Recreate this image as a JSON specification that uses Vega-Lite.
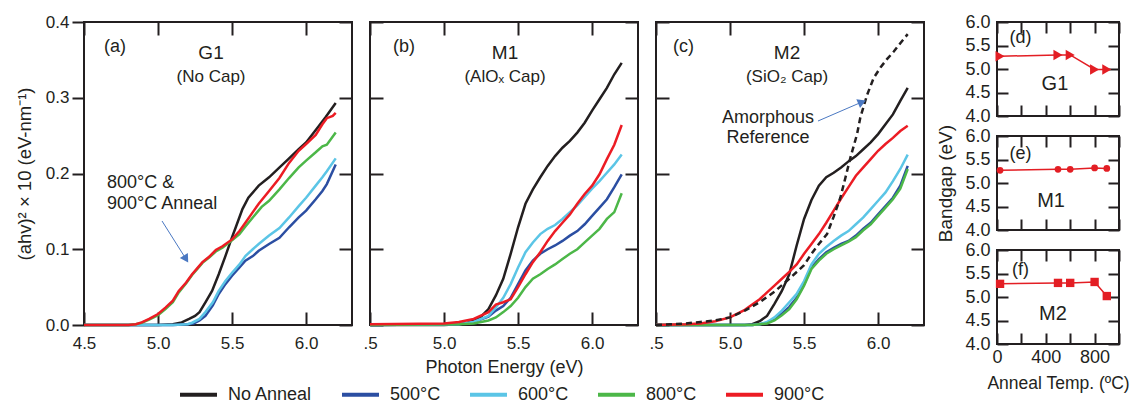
{
  "$schema": "https://vega.github.io/schema/vega-lite/v6.json",
  "background": "white",
  "padding": {"left": 14, "top": 12, "right": 2, "bottom": 0},
  "config": {
    "font": "Liberation Sans",
    "view": {"stroke": "#231f20", "strokeWidth": 2},
    "axis": {"domain": false, "grid": false, "tickColor": "#231f20", "tickWidth": 2, "labelColor": "#231f20", "titleColor": "#231f20", "titleFontWeight": "normal", "labelFlush": false, "labelOverlap": false},
    "legend": {"symbolType": "stroke", "symbolSize": 1369, "symbolStrokeWidth": 4, "labelFontSize": 18, "labelOffset": 9, "columnPadding": 21, "labelColor": "#231f20", "labelLimit": 300}
  },
  "datasets": {
    "curves": [
      {"p":"a","s":"No Anneal","E":4.5,"v":0},{"p":"a","s":"No Anneal","E":5.0,"v":0},{"p":"a","s":"No Anneal","E":5.1,"v":0.001},{"p":"a","s":"No Anneal","E":5.16,"v":0.0035},{"p":"a","s":"No Anneal","E":5.21,"v":0.008},{"p":"a","s":"No Anneal","E":5.25,"v":0.012},{"p":"a","s":"No Anneal","E":5.28,"v":0.017},{"p":"a","s":"No Anneal","E":5.32,"v":0.03},{"p":"a","s":"No Anneal","E":5.365,"v":0.045},{"p":"a","s":"No Anneal","E":5.41,"v":0.067},{"p":"a","s":"No Anneal","E":5.455,"v":0.091},{"p":"a","s":"No Anneal","E":5.5,"v":0.116},{"p":"a","s":"No Anneal","E":5.525,"v":0.129},{"p":"a","s":"No Anneal","E":5.57,"v":0.153},{"p":"a","s":"No Anneal","E":5.61,"v":0.168},{"p":"a","s":"No Anneal","E":5.68,"v":0.184},{"p":"a","s":"No Anneal","E":5.75,"v":0.195},{"p":"a","s":"No Anneal","E":5.81,"v":0.206},{"p":"a","s":"No Anneal","E":5.88,"v":0.219},{"p":"a","s":"No Anneal","E":5.95,"v":0.232},{"p":"a","s":"No Anneal","E":6.0,"v":0.241},{"p":"a","s":"No Anneal","E":6.06,"v":0.256},{"p":"a","s":"No Anneal","E":6.13,"v":0.274},{"p":"a","s":"No Anneal","E":6.2,"v":0.293},
      {"p":"a","s":"500°C","E":4.5,"v":0},{"p":"a","s":"500°C","E":5.1,"v":0},{"p":"a","s":"500°C","E":5.2,"v":0.001},{"p":"a","s":"500°C","E":5.24,"v":0.002},{"p":"a","s":"500°C","E":5.28,"v":0.006},{"p":"a","s":"500°C","E":5.32,"v":0.012},{"p":"a","s":"500°C","E":5.37,"v":0.026},{"p":"a","s":"500°C","E":5.41,"v":0.041},{"p":"a","s":"500°C","E":5.455,"v":0.054},{"p":"a","s":"500°C","E":5.5,"v":0.065},{"p":"a","s":"500°C","E":5.55,"v":0.076},{"p":"a","s":"500°C","E":5.59,"v":0.085},{"p":"a","s":"500°C","E":5.64,"v":0.091},{"p":"a","s":"500°C","E":5.68,"v":0.098},{"p":"a","s":"500°C","E":5.75,"v":0.107},{"p":"a","s":"500°C","E":5.82,"v":0.115},{"p":"a","s":"500°C","E":5.885,"v":0.129},{"p":"a","s":"500°C","E":5.95,"v":0.142},{"p":"a","s":"500°C","E":6.0,"v":0.151},{"p":"a","s":"500°C","E":6.065,"v":0.166},{"p":"a","s":"500°C","E":6.11,"v":0.177},{"p":"a","s":"500°C","E":6.14,"v":0.186},{"p":"a","s":"500°C","E":6.2,"v":0.212},
      {"p":"a","s":"600°C","E":4.5,"v":0},{"p":"a","s":"600°C","E":5.1,"v":0},{"p":"a","s":"600°C","E":5.2,"v":0.001},{"p":"a","s":"600°C","E":5.23,"v":0.003},{"p":"a","s":"600°C","E":5.28,"v":0.008},{"p":"a","s":"600°C","E":5.32,"v":0.017},{"p":"a","s":"600°C","E":5.37,"v":0.03},{"p":"a","s":"600°C","E":5.41,"v":0.045},{"p":"a","s":"600°C","E":5.455,"v":0.058},{"p":"a","s":"600°C","E":5.5,"v":0.069},{"p":"a","s":"600°C","E":5.55,"v":0.08},{"p":"a","s":"600°C","E":5.59,"v":0.091},{"p":"a","s":"600°C","E":5.64,"v":0.1},{"p":"a","s":"600°C","E":5.68,"v":0.107},{"p":"a","s":"600°C","E":5.75,"v":0.118},{"p":"a","s":"600°C","E":5.82,"v":0.128},{"p":"a","s":"600°C","E":5.885,"v":0.142},{"p":"a","s":"600°C","E":5.95,"v":0.157},{"p":"a","s":"600°C","E":6.0,"v":0.168},{"p":"a","s":"600°C","E":6.065,"v":0.184},{"p":"a","s":"600°C","E":6.11,"v":0.195},{"p":"a","s":"600°C","E":6.14,"v":0.203},{"p":"a","s":"600°C","E":6.2,"v":0.22},
      {"p":"a","s":"800°C","E":4.5,"v":0},{"p":"a","s":"800°C","E":4.8,"v":0},{"p":"a","s":"800°C","E":4.85,"v":0.001},{"p":"a","s":"800°C","E":4.89,"v":0.003},{"p":"a","s":"800°C","E":4.94,"v":0.007},{"p":"a","s":"800°C","E":5.0,"v":0.013},{"p":"a","s":"800°C","E":5.05,"v":0.021},{"p":"a","s":"800°C","E":5.1,"v":0.03},{"p":"a","s":"800°C","E":5.14,"v":0.043},{"p":"a","s":"800°C","E":5.19,"v":0.055},{"p":"a","s":"800°C","E":5.23,"v":0.066},{"p":"a","s":"800°C","E":5.27,"v":0.075},{"p":"a","s":"800°C","E":5.3,"v":0.082},{"p":"a","s":"800°C","E":5.345,"v":0.089},{"p":"a","s":"800°C","E":5.39,"v":0.097},{"p":"a","s":"800°C","E":5.435,"v":0.102},{"p":"a","s":"800°C","E":5.5,"v":0.112},{"p":"a","s":"800°C","E":5.55,"v":0.12},{"p":"a","s":"800°C","E":5.59,"v":0.13},{"p":"a","s":"800°C","E":5.64,"v":0.142},{"p":"a","s":"800°C","E":5.7,"v":0.156},{"p":"a","s":"800°C","E":5.75,"v":0.164},{"p":"a","s":"800°C","E":5.82,"v":0.179},{"p":"a","s":"800°C","E":5.885,"v":0.194},{"p":"a","s":"800°C","E":5.95,"v":0.208},{"p":"a","s":"800°C","E":6.0,"v":0.217},{"p":"a","s":"800°C","E":6.065,"v":0.228},{"p":"a","s":"800°C","E":6.11,"v":0.236},{"p":"a","s":"800°C","E":6.14,"v":0.238},{"p":"a","s":"800°C","E":6.2,"v":0.254},
      {"p":"a","s":"900°C","E":4.5,"v":0},{"p":"a","s":"900°C","E":4.8,"v":0},{"p":"a","s":"900°C","E":4.85,"v":0.001},{"p":"a","s":"900°C","E":4.89,"v":0.0035},{"p":"a","s":"900°C","E":4.94,"v":0.008},{"p":"a","s":"900°C","E":5.0,"v":0.0145},{"p":"a","s":"900°C","E":5.05,"v":0.023},{"p":"a","s":"900°C","E":5.1,"v":0.032},{"p":"a","s":"900°C","E":5.14,"v":0.045},{"p":"a","s":"900°C","E":5.19,"v":0.056},{"p":"a","s":"900°C","E":5.23,"v":0.067},{"p":"a","s":"900°C","E":5.27,"v":0.076},{"p":"a","s":"900°C","E":5.3,"v":0.083},{"p":"a","s":"900°C","E":5.345,"v":0.09},{"p":"a","s":"900°C","E":5.39,"v":0.099},{"p":"a","s":"900°C","E":5.435,"v":0.104},{"p":"a","s":"900°C","E":5.5,"v":0.113},{"p":"a","s":"900°C","E":5.55,"v":0.124},{"p":"a","s":"900°C","E":5.59,"v":0.135},{"p":"a","s":"900°C","E":5.64,"v":0.149},{"p":"a","s":"900°C","E":5.68,"v":0.16},{"p":"a","s":"900°C","E":5.75,"v":0.177},{"p":"a","s":"900°C","E":5.82,"v":0.194},{"p":"a","s":"900°C","E":5.885,"v":0.214},{"p":"a","s":"900°C","E":5.95,"v":0.23},{"p":"a","s":"900°C","E":6.0,"v":0.239},{"p":"a","s":"900°C","E":6.065,"v":0.251},{"p":"a","s":"900°C","E":6.11,"v":0.265},{"p":"a","s":"900°C","E":6.14,"v":0.273},{"p":"a","s":"900°C","E":6.18,"v":0.276},{"p":"a","s":"900°C","E":6.2,"v":0.28},

      {"p":"b","s":"No Anneal","E":4.5,"v":0},{"p":"b","s":"No Anneal","E":5.0,"v":0},{"p":"b","s":"No Anneal","E":5.1,"v":0.001},{"p":"b","s":"No Anneal","E":5.15,"v":0.002},{"p":"b","s":"No Anneal","E":5.2,"v":0.006},{"p":"b","s":"No Anneal","E":5.25,"v":0.011},{"p":"b","s":"No Anneal","E":5.3,"v":0.021},{"p":"b","s":"No Anneal","E":5.35,"v":0.039},{"p":"b","s":"No Anneal","E":5.4,"v":0.061},{"p":"b","s":"No Anneal","E":5.45,"v":0.094},{"p":"b","s":"No Anneal","E":5.5,"v":0.129},{"p":"b","s":"No Anneal","E":5.55,"v":0.16},{"p":"b","s":"No Anneal","E":5.6,"v":0.179},{"p":"b","s":"No Anneal","E":5.65,"v":0.195},{"p":"b","s":"No Anneal","E":5.7,"v":0.21},{"p":"b","s":"No Anneal","E":5.75,"v":0.223},{"p":"b","s":"No Anneal","E":5.8,"v":0.234},{"p":"b","s":"No Anneal","E":5.85,"v":0.243},{"p":"b","s":"No Anneal","E":5.9,"v":0.254},{"p":"b","s":"No Anneal","E":5.95,"v":0.267},{"p":"b","s":"No Anneal","E":6.0,"v":0.283},{"p":"b","s":"No Anneal","E":6.05,"v":0.298},{"p":"b","s":"No Anneal","E":6.1,"v":0.313},{"p":"b","s":"No Anneal","E":6.15,"v":0.331},{"p":"b","s":"No Anneal","E":6.2,"v":0.346},
      {"p":"b","s":"500°C","E":4.5,"v":0},{"p":"b","s":"500°C","E":5.1,"v":0.001},{"p":"b","s":"500°C","E":5.2,"v":0.004},{"p":"b","s":"500°C","E":5.3,"v":0.011},{"p":"b","s":"500°C","E":5.35,"v":0.019},{"p":"b","s":"500°C","E":5.4,"v":0.025},{"p":"b","s":"500°C","E":5.45,"v":0.036},{"p":"b","s":"500°C","E":5.5,"v":0.054},{"p":"b","s":"500°C","E":5.55,"v":0.072},{"p":"b","s":"500°C","E":5.6,"v":0.085},{"p":"b","s":"500°C","E":5.65,"v":0.094},{"p":"b","s":"500°C","E":5.7,"v":0.1},{"p":"b","s":"500°C","E":5.75,"v":0.105},{"p":"b","s":"500°C","E":5.8,"v":0.111},{"p":"b","s":"500°C","E":5.85,"v":0.118},{"p":"b","s":"500°C","E":5.9,"v":0.124},{"p":"b","s":"500°C","E":5.95,"v":0.133},{"p":"b","s":"500°C","E":6.0,"v":0.144},{"p":"b","s":"500°C","E":6.05,"v":0.155},{"p":"b","s":"500°C","E":6.1,"v":0.166},{"p":"b","s":"500°C","E":6.15,"v":0.182},{"p":"b","s":"500°C","E":6.2,"v":0.199},
      {"p":"b","s":"600°C","E":4.5,"v":0},{"p":"b","s":"600°C","E":5.1,"v":0.001},{"p":"b","s":"600°C","E":5.2,"v":0.004},{"p":"b","s":"600°C","E":5.3,"v":0.012},{"p":"b","s":"600°C","E":5.35,"v":0.023},{"p":"b","s":"600°C","E":5.4,"v":0.036},{"p":"b","s":"600°C","E":5.45,"v":0.054},{"p":"b","s":"600°C","E":5.5,"v":0.076},{"p":"b","s":"600°C","E":5.55,"v":0.096},{"p":"b","s":"600°C","E":5.6,"v":0.109},{"p":"b","s":"600°C","E":5.65,"v":0.12},{"p":"b","s":"600°C","E":5.7,"v":0.127},{"p":"b","s":"600°C","E":5.75,"v":0.132},{"p":"b","s":"600°C","E":5.8,"v":0.14},{"p":"b","s":"600°C","E":5.85,"v":0.149},{"p":"b","s":"600°C","E":5.9,"v":0.158},{"p":"b","s":"600°C","E":5.95,"v":0.169},{"p":"b","s":"600°C","E":6.0,"v":0.18},{"p":"b","s":"600°C","E":6.05,"v":0.19},{"p":"b","s":"600°C","E":6.1,"v":0.201},{"p":"b","s":"600°C","E":6.15,"v":0.212},{"p":"b","s":"600°C","E":6.2,"v":0.225},
      {"p":"b","s":"800°C","E":4.5,"v":0},{"p":"b","s":"800°C","E":5.1,"v":0.001},{"p":"b","s":"800°C","E":5.2,"v":0.002},{"p":"b","s":"800°C","E":5.25,"v":0.004},{"p":"b","s":"800°C","E":5.3,"v":0.006},{"p":"b","s":"800°C","E":5.35,"v":0.01},{"p":"b","s":"800°C","E":5.4,"v":0.017},{"p":"b","s":"800°C","E":5.45,"v":0.025},{"p":"b","s":"800°C","E":5.5,"v":0.036},{"p":"b","s":"800°C","E":5.55,"v":0.05},{"p":"b","s":"800°C","E":5.6,"v":0.061},{"p":"b","s":"800°C","E":5.65,"v":0.067},{"p":"b","s":"800°C","E":5.7,"v":0.074},{"p":"b","s":"800°C","E":5.75,"v":0.08},{"p":"b","s":"800°C","E":5.8,"v":0.087},{"p":"b","s":"800°C","E":5.85,"v":0.094},{"p":"b","s":"800°C","E":5.9,"v":0.1},{"p":"b","s":"800°C","E":5.95,"v":0.109},{"p":"b","s":"800°C","E":6.0,"v":0.118},{"p":"b","s":"800°C","E":6.05,"v":0.127},{"p":"b","s":"800°C","E":6.1,"v":0.14},{"p":"b","s":"800°C","E":6.15,"v":0.149},{"p":"b","s":"800°C","E":6.2,"v":0.174},
      {"p":"b","s":"900°C","E":4.5,"v":0.001},{"p":"b","s":"900°C","E":5.0,"v":0.002},{"p":"b","s":"900°C","E":5.1,"v":0.004},{"p":"b","s":"900°C","E":5.2,"v":0.008},{"p":"b","s":"900°C","E":5.3,"v":0.017},{"p":"b","s":"900°C","E":5.35,"v":0.027},{"p":"b","s":"900°C","E":5.4,"v":0.03},{"p":"b","s":"900°C","E":5.45,"v":0.034},{"p":"b","s":"900°C","E":5.5,"v":0.05},{"p":"b","s":"900°C","E":5.55,"v":0.067},{"p":"b","s":"900°C","E":5.6,"v":0.083},{"p":"b","s":"900°C","E":5.65,"v":0.096},{"p":"b","s":"900°C","E":5.7,"v":0.111},{"p":"b","s":"900°C","E":5.75,"v":0.124},{"p":"b","s":"900°C","E":5.8,"v":0.135},{"p":"b","s":"900°C","E":5.85,"v":0.146},{"p":"b","s":"900°C","E":5.9,"v":0.16},{"p":"b","s":"900°C","E":5.95,"v":0.173},{"p":"b","s":"900°C","E":6.0,"v":0.184},{"p":"b","s":"900°C","E":6.05,"v":0.199},{"p":"b","s":"900°C","E":6.1,"v":0.219},{"p":"b","s":"900°C","E":6.15,"v":0.238},{"p":"b","s":"900°C","E":6.2,"v":0.264},

      {"p":"c","s":"No Anneal","E":4.5,"v":0},{"p":"c","s":"No Anneal","E":5.1,"v":0},{"p":"c","s":"No Anneal","E":5.15,"v":0.001},{"p":"c","s":"No Anneal","E":5.2,"v":0.005},{"p":"c","s":"No Anneal","E":5.25,"v":0.012},{"p":"c","s":"No Anneal","E":5.3,"v":0.028},{"p":"c","s":"No Anneal","E":5.35,"v":0.045},{"p":"c","s":"No Anneal","E":5.4,"v":0.067},{"p":"c","s":"No Anneal","E":5.45,"v":0.105},{"p":"c","s":"No Anneal","E":5.5,"v":0.14},{"p":"c","s":"No Anneal","E":5.55,"v":0.165},{"p":"c","s":"No Anneal","E":5.6,"v":0.184},{"p":"c","s":"No Anneal","E":5.65,"v":0.195},{"p":"c","s":"No Anneal","E":5.7,"v":0.201},{"p":"c","s":"No Anneal","E":5.75,"v":0.208},{"p":"c","s":"No Anneal","E":5.8,"v":0.216},{"p":"c","s":"No Anneal","E":5.85,"v":0.223},{"p":"c","s":"No Anneal","E":5.9,"v":0.232},{"p":"c","s":"No Anneal","E":5.95,"v":0.241},{"p":"c","s":"No Anneal","E":6.0,"v":0.252},{"p":"c","s":"No Anneal","E":6.05,"v":0.265},{"p":"c","s":"No Anneal","E":6.1,"v":0.278},{"p":"c","s":"No Anneal","E":6.15,"v":0.296},{"p":"c","s":"No Anneal","E":6.2,"v":0.313},
      {"p":"c","s":"500°C","E":4.5,"v":0},{"p":"c","s":"500°C","E":5.15,"v":0},{"p":"c","s":"500°C","E":5.2,"v":0.001},{"p":"c","s":"500°C","E":5.25,"v":0.003},{"p":"c","s":"500°C","E":5.3,"v":0.008},{"p":"c","s":"500°C","E":5.35,"v":0.015},{"p":"c","s":"500°C","E":5.4,"v":0.024},{"p":"c","s":"500°C","E":5.45,"v":0.036},{"p":"c","s":"500°C","E":5.5,"v":0.054},{"p":"c","s":"500°C","E":5.55,"v":0.076},{"p":"c","s":"500°C","E":5.6,"v":0.087},{"p":"c","s":"500°C","E":5.65,"v":0.096},{"p":"c","s":"500°C","E":5.7,"v":0.102},{"p":"c","s":"500°C","E":5.75,"v":0.107},{"p":"c","s":"500°C","E":5.8,"v":0.111},{"p":"c","s":"500°C","E":5.85,"v":0.118},{"p":"c","s":"500°C","E":5.9,"v":0.127},{"p":"c","s":"500°C","E":5.95,"v":0.135},{"p":"c","s":"500°C","E":6.0,"v":0.146},{"p":"c","s":"500°C","E":6.05,"v":0.157},{"p":"c","s":"500°C","E":6.1,"v":0.168},{"p":"c","s":"500°C","E":6.15,"v":0.184},{"p":"c","s":"500°C","E":6.2,"v":0.21},
      {"p":"c","s":"600°C","E":4.5,"v":0},{"p":"c","s":"600°C","E":5.15,"v":0},{"p":"c","s":"600°C","E":5.2,"v":0.001},{"p":"c","s":"600°C","E":5.25,"v":0.004},{"p":"c","s":"600°C","E":5.3,"v":0.01},{"p":"c","s":"600°C","E":5.35,"v":0.019},{"p":"c","s":"600°C","E":5.4,"v":0.03},{"p":"c","s":"600°C","E":5.45,"v":0.041},{"p":"c","s":"600°C","E":5.5,"v":0.058},{"p":"c","s":"600°C","E":5.55,"v":0.08},{"p":"c","s":"600°C","E":5.6,"v":0.094},{"p":"c","s":"600°C","E":5.65,"v":0.103},{"p":"c","s":"600°C","E":5.7,"v":0.111},{"p":"c","s":"600°C","E":5.75,"v":0.118},{"p":"c","s":"600°C","E":5.8,"v":0.124},{"p":"c","s":"600°C","E":5.85,"v":0.133},{"p":"c","s":"600°C","E":5.9,"v":0.142},{"p":"c","s":"600°C","E":5.95,"v":0.153},{"p":"c","s":"600°C","E":6.0,"v":0.164},{"p":"c","s":"600°C","E":6.05,"v":0.175},{"p":"c","s":"600°C","E":6.1,"v":0.19},{"p":"c","s":"600°C","E":6.15,"v":0.206},{"p":"c","s":"600°C","E":6.2,"v":0.225},
      {"p":"c","s":"800°C","E":4.5,"v":0},{"p":"c","s":"800°C","E":5.15,"v":0},{"p":"c","s":"800°C","E":5.2,"v":0.001},{"p":"c","s":"800°C","E":5.25,"v":0.002},{"p":"c","s":"800°C","E":5.3,"v":0.006},{"p":"c","s":"800°C","E":5.35,"v":0.013},{"p":"c","s":"800°C","E":5.4,"v":0.021},{"p":"c","s":"800°C","E":5.45,"v":0.034},{"p":"c","s":"800°C","E":5.5,"v":0.052},{"p":"c","s":"800°C","E":5.55,"v":0.074},{"p":"c","s":"800°C","E":5.6,"v":0.085},{"p":"c","s":"800°C","E":5.65,"v":0.094},{"p":"c","s":"800°C","E":5.7,"v":0.1},{"p":"c","s":"800°C","E":5.75,"v":0.105},{"p":"c","s":"800°C","E":5.8,"v":0.11},{"p":"c","s":"800°C","E":5.85,"v":0.116},{"p":"c","s":"800°C","E":5.9,"v":0.125},{"p":"c","s":"800°C","E":5.95,"v":0.133},{"p":"c","s":"800°C","E":6.0,"v":0.144},{"p":"c","s":"800°C","E":6.05,"v":0.155},{"p":"c","s":"800°C","E":6.1,"v":0.166},{"p":"c","s":"800°C","E":6.15,"v":0.18},{"p":"c","s":"800°C","E":6.2,"v":0.206},
      {"p":"c","s":"900°C","E":4.5,"v":0},{"p":"c","s":"900°C","E":4.7,"v":0.001},{"p":"c","s":"900°C","E":4.8,"v":0.002},{"p":"c","s":"900°C","E":4.9,"v":0.005},{"p":"c","s":"900°C","E":5.0,"v":0.01},{"p":"c","s":"900°C","E":5.05,"v":0.015},{"p":"c","s":"900°C","E":5.1,"v":0.02},{"p":"c","s":"900°C","E":5.15,"v":0.027},{"p":"c","s":"900°C","E":5.2,"v":0.034},{"p":"c","s":"900°C","E":5.25,"v":0.043},{"p":"c","s":"900°C","E":5.3,"v":0.052},{"p":"c","s":"900°C","E":5.35,"v":0.061},{"p":"c","s":"900°C","E":5.4,"v":0.07},{"p":"c","s":"900°C","E":5.45,"v":0.08},{"p":"c","s":"900°C","E":5.5,"v":0.094},{"p":"c","s":"900°C","E":5.55,"v":0.107},{"p":"c","s":"900°C","E":5.6,"v":0.12},{"p":"c","s":"900°C","E":5.65,"v":0.135},{"p":"c","s":"900°C","E":5.7,"v":0.151},{"p":"c","s":"900°C","E":5.75,"v":0.167},{"p":"c","s":"900°C","E":5.8,"v":0.182},{"p":"c","s":"900°C","E":5.85,"v":0.197},{"p":"c","s":"900°C","E":5.9,"v":0.208},{"p":"c","s":"900°C","E":5.95,"v":0.219},{"p":"c","s":"900°C","E":6.0,"v":0.23},{"p":"c","s":"900°C","E":6.05,"v":0.239},{"p":"c","s":"900°C","E":6.1,"v":0.247},{"p":"c","s":"900°C","E":6.15,"v":0.256},{"p":"c","s":"900°C","E":6.2,"v":0.263},
      {"p":"c","s":"Amorphous","E":4.5,"v":0},{"p":"c","s":"Amorphous","E":4.6,"v":0.001},{"p":"c","s":"Amorphous","E":4.7,"v":0.002},{"p":"c","s":"Amorphous","E":4.8,"v":0.004},{"p":"c","s":"Amorphous","E":4.9,"v":0.006},{"p":"c","s":"Amorphous","E":5.0,"v":0.01},{"p":"c","s":"Amorphous","E":5.1,"v":0.019},{"p":"c","s":"Amorphous","E":5.2,"v":0.03},{"p":"c","s":"Amorphous","E":5.3,"v":0.044},{"p":"c","s":"Amorphous","E":5.4,"v":0.061},{"p":"c","s":"Amorphous","E":5.45,"v":0.07},{"p":"c","s":"Amorphous","E":5.5,"v":0.079},{"p":"c","s":"Amorphous","E":5.55,"v":0.094},{"p":"c","s":"Amorphous","E":5.6,"v":0.107},{"p":"c","s":"Amorphous","E":5.655,"v":0.12},{"p":"c","s":"Amorphous","E":5.7,"v":0.143},{"p":"c","s":"Amorphous","E":5.745,"v":0.168},{"p":"c","s":"Amorphous","E":5.78,"v":0.195},{"p":"c","s":"Amorphous","E":5.813,"v":0.221},{"p":"c","s":"Amorphous","E":5.858,"v":0.252},{"p":"c","s":"Amorphous","E":5.88,"v":0.274},{"p":"c","s":"Amorphous","E":5.926,"v":0.304},{"p":"c","s":"Amorphous","E":5.97,"v":0.326},{"p":"c","s":"Amorphous","E":6.016,"v":0.34},{"p":"c","s":"Amorphous","E":6.06,"v":0.351},{"p":"c","s":"Amorphous","E":6.106,"v":0.361},{"p":"c","s":"Amorphous","E":6.15,"v":0.372},{"p":"c","s":"Amorphous","E":6.2,"v":0.384}
    ],
    "notes": [
      {"panel":"a","kind":"tag","x":4.635,"y":0.367,"t":"(a)"},
      {"panel":"a","kind":"name","x":5.358,"y":0.359,"t":"G1"},
      {"panel":"a","kind":"sub","x":5.358,"y":0.327,"t":"(No Cap)"},
      {"panel":"a","kind":"ann","x":4.655,"y":0.187,"t":"800°C &"},
      {"panel":"a","kind":"ann","x":4.655,"y":0.160,"t":"900°C Anneal"},
      {"panel":"b","kind":"tag","x":4.655,"y":0.367,"t":"(b)"},
      {"panel":"b","kind":"name","x":5.412,"y":0.359,"t":"M1"},
      {"panel":"b","kind":"sub","x":5.412,"y":0.327,"t":"(AlOₓ Cap)"},
      {"panel":"c","kind":"tag","x":4.615,"y":0.367,"t":"(c)"},
      {"panel":"c","kind":"name","x":5.385,"y":0.359,"t":"M2"},
      {"panel":"c","kind":"sub","x":5.385,"y":0.327,"t":"(SiO₂ Cap)"},
      {"panel":"c","kind":"ann","x":5.257,"y":0.273,"t":"Amorphous"},
      {"panel":"c","kind":"ann","x":5.257,"y":0.247,"t":"Reference"},
      {"panel":"d","kind":"tag","x":193,"y":5.66,"t":"(d)"},
      {"panel":"d","kind":"name","x":475,"y":4.69,"t":"G1"},
      {"panel":"e","kind":"tag","x":193,"y":5.62,"t":"(e)"},
      {"panel":"e","kind":"name","x":443,"y":4.62,"t":"M1"},
      {"panel":"f","kind":"tag","x":193,"y":5.58,"t":"(f)"},
      {"panel":"f","kind":"name","x":459,"y":4.64,"t":"M2"}
    ],
    "arrows": [
      {"panel":"a","x":5.027,"y":0.1373,"x2":5.189,"y2":0.0871},
      {"panel":"c","x":5.594,"y":0.2693,"x2":5.891,"y2":0.2944}
    ],
    "gap": [
      {"p":"G1","T":25,"Eg":5.27},{"p":"G1","T":500,"Eg":5.3},{"p":"G1","T":600,"Eg":5.3},{"p":"G1","T":800,"Eg":4.99},{"p":"G1","T":900,"Eg":4.99},
      {"p":"M1","T":25,"Eg":5.27},{"p":"M1","T":500,"Eg":5.29},{"p":"M1","T":600,"Eg":5.29},{"p":"M1","T":800,"Eg":5.32},{"p":"M1","T":900,"Eg":5.31},
      {"p":"M2","T":25,"Eg":5.28},{"p":"M2","T":500,"Eg":5.3},{"p":"M2","T":600,"Eg":5.3},{"p":"M2","T":800,"Eg":5.32},{"p":"M2","T":900,"Eg":5.02}
    ]
  },
  "spacing": 9,
  "hconcat": [
    {
      "spacing": 18,
      "bounds": "flush",
      "hconcat": [
        {
          "width": 268, "height": 303,
          "resolve": {"axis": {"x": "independent", "y": "independent"}},
          "layer": [
            {
              "data": {"name": "curves"},
              "transform": [{"filter": "datum.p == 'a' && datum.s != 'Amorphous'"}],
              "mark": {"type": "line", "strokeWidth": 2.5},
              "encoding": {
                "x": {"field": "E", "type": "quantitative", "scale": {"domain": [4.5, 6.31], "nice": false, "zero": false},
                      "axis": {"orient": "bottom", "values": [4.5, 5, 5.5, 6], "format": ".1f", "tickSize": -13, "labelPadding": 23, "labelFontSize": 17, "title": null}},
                "y": {"field": "v", "type": "quantitative", "scale": {"domain": [0, 0.4], "nice": false, "zero": false},
                      "axis": {"orient": "left", "values": [0, 0.1, 0.2, 0.3, 0.4], "format": ".1f", "tickSize": 12, "labelPadding": 3, "labelFontSize": 17, "title": "(ahv)² × 10 (eV-nm⁻¹)", "titleFontSize": 18.5, "titlePadding": 11, "encode": {"ticks": {"update": {"x": {"value": 12}}}}}},
                "color": {"field": "s", "type": "nominal", "scale": {"domain": ["No Anneal", "500°C", "600°C", "800°C", "900°C"], "range": ["#231f20", "#2b4ea2", "#5bc5e6", "#4cb748", "#ec1c24"]},
                          "legend": {"title": null, "orient": "none", "direction": "horizontal", "legendX": 94, "legendY": 352}}
              }
            },
            {
              "data": {"name": "notes"},
              "transform": [{"filter": "datum.panel == 'a' && datum.kind == 'tag'"}],
              "mark": {"type": "text", "align": "left", "baseline": "middle", "fontSize": 18, "color": "#231f20"},
              "encoding": {
                "x": {"field": "x", "type": "quantitative", "scale": {"domain": [4.5, 6.31], "nice": false, "zero": false}, "axis": {"orient": "top", "values": [4.5, 5, 5.5, 6], "labels": false, "tickSize": -13, "title": null}},
                "y": {"field": "y", "type": "quantitative", "scale": {"domain": [0, 0.4], "nice": false, "zero": false}, "axis": {"orient": "right", "values": [0, 0.1, 0.2, 0.3, 0.4], "labels": false, "tickSize": -13, "title": null}},
                "text": {"field": "t"}
              }
            },
            {
              "data": {"name": "notes"},
              "transform": [{"filter": "datum.panel == 'a' && datum.kind == 'name'"}],
              "mark": {"type": "text", "align": "center", "baseline": "middle", "fontSize": 19, "color": "#231f20"},
              "encoding": {
                "x": {"field": "x", "type": "quantitative", "scale": {"domain": [4.5, 6.31], "nice": false, "zero": false}, "axis": null},
                "y": {"field": "y", "type": "quantitative", "scale": {"domain": [0, 0.4], "nice": false, "zero": false}, "axis": null},
                "text": {"field": "t"}
              }
            },
            {
              "data": {"name": "notes"},
              "transform": [{"filter": "datum.panel == 'a' && datum.kind == 'sub'"}],
              "mark": {"type": "text", "align": "center", "baseline": "middle", "fontSize": 17, "color": "#231f20"},
              "encoding": {
                "x": {"field": "x", "type": "quantitative", "scale": {"domain": [4.5, 6.31], "nice": false, "zero": false}, "axis": null},
                "y": {"field": "y", "type": "quantitative", "scale": {"domain": [0, 0.4], "nice": false, "zero": false}, "axis": null},
                "text": {"field": "t"}
              }
            },
            {
              "data": {"name": "notes"},
              "transform": [{"filter": "datum.panel == 'a' && datum.kind == 'ann'"}],
              "mark": {"type": "text", "align": "left", "baseline": "middle", "fontSize": 18, "color": "#231f20"},
              "encoding": {
                "x": {"field": "x", "type": "quantitative", "scale": {"domain": [4.5, 6.31], "nice": false, "zero": false}, "axis": null},
                "y": {"field": "y", "type": "quantitative", "scale": {"domain": [0, 0.4], "nice": false, "zero": false}, "axis": null},
                "text": {"field": "t"}
              }
            },
            {
              "data": {"name": "arrows"},
              "transform": [{"filter": "datum.panel == 'a'"}],
              "mark": {"type": "rule", "color": "#4a78c2", "strokeWidth": 1},
              "encoding": {
                "x": {"field": "x", "type": "quantitative", "scale": {"domain": [4.5, 6.31], "nice": false, "zero": false}, "axis": null},
                "y": {"field": "y", "type": "quantitative", "scale": {"domain": [0, 0.4], "nice": false, "zero": false}, "axis": null},
                "x2": {"field": "x2"},
                "y2": {"field": "y2"}
              }
            },
            {
              "data": {"name": "arrows"},
              "transform": [{"filter": "datum.panel == 'a'"}],
              "mark": {"type": "point", "shape": "triangle-up", "filled": true, "size": 90, "angle": 148, "color": "#4a78c2", "opacity": 1},
              "encoding": {
                "x": {"field": "x2", "type": "quantitative", "scale": {"domain": [4.5, 6.31], "nice": false, "zero": false}, "axis": null},
                "y": {"field": "y2", "type": "quantitative", "scale": {"domain": [0, 0.4], "nice": false, "zero": false}, "axis": null}
              }
            }
          ]
        },
        {
          "width": 268, "height": 303,
          "resolve": {"axis": {"x": "independent", "y": "independent"}},
          "layer": [
            {
              "data": {"name": "curves"},
              "transform": [{"filter": "datum.p == 'b' && datum.s != 'Amorphous'"}],
              "mark": {"type": "line", "strokeWidth": 2.5},
              "encoding": {
                "x": {"field": "E", "type": "quantitative", "scale": {"domain": [4.5, 6.31], "nice": false, "zero": false},
                      "axis": {"orient": "bottom", "values": [4.5, 5, 5.5, 6], "format": ".1f", "labelExpr": "datum.value == 4.5 ? '.5' : datum.label", "tickSize": -13, "labelPadding": 23, "labelFontSize": 17, "title": "Photon Energy (eV)", "titleFontSize": 18, "titlePadding": 7}},
                "y": {"field": "v", "type": "quantitative", "scale": {"domain": [0, 0.4], "nice": false, "zero": false},
                      "axis": {"orient": "left", "values": [0, 0.1, 0.2, 0.3, 0.4], "labels": false, "tickSize": -13, "title": null}},
                "color": {"field": "s", "type": "nominal", "scale": {"domain": ["No Anneal", "500°C", "600°C", "800°C", "900°C"], "range": ["#231f20", "#2b4ea2", "#5bc5e6", "#4cb748", "#ec1c24"]},
                          "legend": {"title": null, "orient": "none", "direction": "horizontal", "legendX": 94, "legendY": 352}}
              }
            },
            {
              "data": {"name": "notes"},
              "transform": [{"filter": "datum.panel == 'b' && datum.kind == 'tag'"}],
              "mark": {"type": "text", "align": "left", "baseline": "middle", "fontSize": 18, "color": "#231f20"},
              "encoding": {
                "x": {"field": "x", "type": "quantitative", "scale": {"domain": [4.5, 6.31], "nice": false, "zero": false}, "axis": {"orient": "top", "values": [4.5, 5, 5.5, 6], "labels": false, "tickSize": -13, "title": null}},
                "y": {"field": "y", "type": "quantitative", "scale": {"domain": [0, 0.4], "nice": false, "zero": false}, "axis": {"orient": "right", "values": [0, 0.1, 0.2, 0.3, 0.4], "labels": false, "tickSize": -13, "title": null}},
                "text": {"field": "t"}
              }
            },
            {
              "data": {"name": "notes"},
              "transform": [{"filter": "datum.panel == 'b' && datum.kind == 'name'"}],
              "mark": {"type": "text", "align": "center", "baseline": "middle", "fontSize": 19, "color": "#231f20"},
              "encoding": {
                "x": {"field": "x", "type": "quantitative", "scale": {"domain": [4.5, 6.31], "nice": false, "zero": false}, "axis": null},
                "y": {"field": "y", "type": "quantitative", "scale": {"domain": [0, 0.4], "nice": false, "zero": false}, "axis": null},
                "text": {"field": "t"}
              }
            },
            {
              "data": {"name": "notes"},
              "transform": [{"filter": "datum.panel == 'b' && datum.kind == 'sub'"}],
              "mark": {"type": "text", "align": "center", "baseline": "middle", "fontSize": 17, "color": "#231f20"},
              "encoding": {
                "x": {"field": "x", "type": "quantitative", "scale": {"domain": [4.5, 6.31], "nice": false, "zero": false}, "axis": null},
                "y": {"field": "y", "type": "quantitative", "scale": {"domain": [0, 0.4], "nice": false, "zero": false}, "axis": null},
                "text": {"field": "t"}
              }
            }
          ]
        },
        {
          "width": 268, "height": 303,
          "resolve": {"axis": {"x": "independent", "y": "independent"}},
          "layer": [
            {
              "data": {"name": "curves"},
              "transform": [{"filter": "datum.p == 'c' && datum.s != 'Amorphous'"}],
              "mark": {"type": "line", "strokeWidth": 2.5},
              "encoding": {
                "x": {"field": "E", "type": "quantitative", "scale": {"domain": [4.5, 6.31], "nice": false, "zero": false},
                      "axis": {"orient": "bottom", "values": [4.5, 5, 5.5, 6], "format": ".1f", "labelExpr": "datum.value == 4.5 ? '.5' : datum.label", "tickSize": -13, "labelPadding": 23, "labelFontSize": 17, "title": null}},
                "y": {"field": "v", "type": "quantitative", "scale": {"domain": [0, 0.4], "nice": false, "zero": false},
                      "axis": {"orient": "left", "values": [0, 0.1, 0.2, 0.3, 0.4], "labels": false, "tickSize": -13, "title": null}},
                "color": {"field": "s", "type": "nominal", "scale": {"domain": ["No Anneal", "500°C", "600°C", "800°C", "900°C"], "range": ["#231f20", "#2b4ea2", "#5bc5e6", "#4cb748", "#ec1c24"]},
                          "legend": {"title": null, "orient": "none", "direction": "horizontal", "legendX": 94, "legendY": 352}}
              }
            },
            {
              "data": {"name": "curves"},
              "transform": [{"filter": "datum.p == 'c' && datum.s == 'Amorphous'"}],
              "mark": {"type": "line", "strokeWidth": 2.5, "color": "#231f20", "strokeDash": [6, 4]},
              "encoding": {
                "x": {"field": "E", "type": "quantitative", "scale": {"domain": [4.5, 6.31], "nice": false, "zero": false}, "axis": null},
                "y": {"field": "v", "type": "quantitative", "scale": {"domain": [0, 0.4], "nice": false, "zero": false}, "axis": null}
              }
            },
            {
              "data": {"name": "notes"},
              "transform": [{"filter": "datum.panel == 'c' && datum.kind == 'tag'"}],
              "mark": {"type": "text", "align": "left", "baseline": "middle", "fontSize": 18, "color": "#231f20"},
              "encoding": {
                "x": {"field": "x", "type": "quantitative", "scale": {"domain": [4.5, 6.31], "nice": false, "zero": false}, "axis": {"orient": "top", "values": [4.5, 5, 5.5, 6], "labels": false, "tickSize": -13, "title": null}},
                "y": {"field": "y", "type": "quantitative", "scale": {"domain": [0, 0.4], "nice": false, "zero": false}, "axis": {"orient": "right", "values": [0, 0.1, 0.2, 0.3, 0.4], "labels": false, "tickSize": -13, "title": null}},
                "text": {"field": "t"}
              }
            },
            {
              "data": {"name": "notes"},
              "transform": [{"filter": "datum.panel == 'c' && datum.kind == 'name'"}],
              "mark": {"type": "text", "align": "center", "baseline": "middle", "fontSize": 19, "color": "#231f20"},
              "encoding": {
                "x": {"field": "x", "type": "quantitative", "scale": {"domain": [4.5, 6.31], "nice": false, "zero": false}, "axis": null},
                "y": {"field": "y", "type": "quantitative", "scale": {"domain": [0, 0.4], "nice": false, "zero": false}, "axis": null},
                "text": {"field": "t"}
              }
            },
            {
              "data": {"name": "notes"},
              "transform": [{"filter": "datum.panel == 'c' && datum.kind == 'sub'"}],
              "mark": {"type": "text", "align": "center", "baseline": "middle", "fontSize": 17, "color": "#231f20"},
              "encoding": {
                "x": {"field": "x", "type": "quantitative", "scale": {"domain": [4.5, 6.31], "nice": false, "zero": false}, "axis": null},
                "y": {"field": "y", "type": "quantitative", "scale": {"domain": [0, 0.4], "nice": false, "zero": false}, "axis": null},
                "text": {"field": "t"}
              }
            },
            {
              "data": {"name": "notes"},
              "transform": [{"filter": "datum.panel == 'c' && datum.kind == 'ann'"}],
              "mark": {"type": "text", "align": "center", "baseline": "middle", "fontSize": 18, "color": "#231f20"},
              "encoding": {
                "x": {"field": "x", "type": "quantitative", "scale": {"domain": [4.5, 6.31], "nice": false, "zero": false}, "axis": null},
                "y": {"field": "y", "type": "quantitative", "scale": {"domain": [0, 0.4], "nice": false, "zero": false}, "axis": null},
                "text": {"field": "t"}
              }
            },
            {
              "data": {"name": "arrows"},
              "transform": [{"filter": "datum.panel == 'c'"}],
              "mark": {"type": "rule", "color": "#4a78c2", "strokeWidth": 1},
              "encoding": {
                "x": {"field": "x", "type": "quantitative", "scale": {"domain": [4.5, 6.31], "nice": false, "zero": false}, "axis": null},
                "y": {"field": "y", "type": "quantitative", "scale": {"domain": [0, 0.4], "nice": false, "zero": false}, "axis": null},
                "x2": {"field": "x2"},
                "y2": {"field": "y2"}
              }
            },
            {
              "data": {"name": "arrows"},
              "transform": [{"filter": "datum.panel == 'c'"}],
              "mark": {"type": "point", "shape": "triangle-up", "filled": true, "size": 90, "angle": 67, "color": "#4a78c2", "opacity": 1},
              "encoding": {
                "x": {"field": "x2", "type": "quantitative", "scale": {"domain": [4.5, 6.31], "nice": false, "zero": false}, "axis": null},
                "y": {"field": "y2", "type": "quantitative", "scale": {"domain": [0, 0.4], "nice": false, "zero": false}, "axis": null}
              }
            }
          ]
        }
      ]
    },
    {
      "spacing": 20,
      "bounds": "flush",
      "vconcat": [
        {
          "width": 122, "height": 94,
          "resolve": {"axis": {"x": "independent", "y": "independent"}},
          "layer": [
            {
              "data": {"name": "gap"},
              "transform": [{"filter": "datum.p == 'G1'"}],
              "mark": {"type": "line", "color": "#e31e24", "strokeWidth": 1.5, "point": {"shape": "triangle-right", "size": 110, "filled": true, "color": "#e31e24", "opacity": 1}},
              "encoding": {
                "x": {"field": "T", "type": "quantitative", "scale": {"domain": [0, 1000], "nice": false, "zero": false}, "axis": {"orient": "bottom", "values": [0, 200, 400, 600, 800, 1000], "labels": false, "tickSize": -11, "title": null}},
                "y": {"field": "Eg", "type": "quantitative", "scale": {"domain": [4, 6], "nice": false, "zero": false}, "axis": {"orient": "left", "values": [4, 4.5, 5, 5.5, 6], "format": ".1f", "tickSize": -11, "labelPadding": 18, "labelFontSize": 18, "title": null}}
              }
            },
            {
              "data": {"name": "notes"},
              "transform": [{"filter": "datum.panel == 'd' && datum.kind == 'tag'"}],
              "mark": {"type": "text", "align": "center", "baseline": "middle", "fontSize": 18, "color": "#231f20"},
              "encoding": {
                "x": {"field": "x", "type": "quantitative", "scale": {"domain": [0, 1000], "nice": false, "zero": false}, "axis": {"orient": "top", "values": [0, 200, 400, 600, 800, 1000], "labels": false, "tickSize": -11, "title": null}},
                "y": {"field": "y", "type": "quantitative", "scale": {"domain": [4, 6], "nice": false, "zero": false}, "axis": {"orient": "right", "values": [4, 4.5, 5, 5.5, 6], "labels": false, "tickSize": -11, "title": null}},
                "text": {"field": "t"}
              }
            },
            {
              "data": {"name": "notes"},
              "transform": [{"filter": "datum.panel == 'd' && datum.kind == 'name'"}],
              "mark": {"type": "text", "align": "center", "baseline": "middle", "fontSize": 20, "color": "#231f20"},
              "encoding": {
                "x": {"field": "x", "type": "quantitative", "scale": {"domain": [0, 1000], "nice": false, "zero": false}, "axis": null},
                "y": {"field": "y", "type": "quantitative", "scale": {"domain": [4, 6], "nice": false, "zero": false}, "axis": null},
                "text": {"field": "t"}
              }
            }
          ]
        },
        {
          "width": 122, "height": 94,
          "resolve": {"axis": {"x": "independent", "y": "independent"}},
          "layer": [
            {
              "data": {"name": "gap"},
              "transform": [{"filter": "datum.p == 'M1'"}],
              "mark": {"type": "line", "color": "#e31e24", "strokeWidth": 1.5, "point": {"shape": "circle", "size": 45, "filled": true, "color": "#e31e24", "opacity": 1}},
              "encoding": {
                "x": {"field": "T", "type": "quantitative", "scale": {"domain": [0, 1000], "nice": false, "zero": false}, "axis": {"orient": "bottom", "values": [0, 200, 400, 600, 800, 1000], "labels": false, "tickSize": -11, "title": null}},
                "y": {"field": "Eg", "type": "quantitative", "scale": {"domain": [4, 6], "nice": false, "zero": false}, "axis": {"orient": "left", "values": [4, 4.5, 5, 5.5, 6], "format": ".1f", "tickSize": -11, "labelPadding": 18, "labelFontSize": 18, "title": "Bandgap (eV)", "titleFontSize": 19, "titlePadding": 9}}
              }
            },
            {
              "data": {"name": "notes"},
              "transform": [{"filter": "datum.panel == 'e' && datum.kind == 'tag'"}],
              "mark": {"type": "text", "align": "center", "baseline": "middle", "fontSize": 18, "color": "#231f20"},
              "encoding": {
                "x": {"field": "x", "type": "quantitative", "scale": {"domain": [0, 1000], "nice": false, "zero": false}, "axis": {"orient": "top", "values": [0, 200, 400, 600, 800, 1000], "labels": false, "tickSize": -11, "title": null}},
                "y": {"field": "y", "type": "quantitative", "scale": {"domain": [4, 6], "nice": false, "zero": false}, "axis": {"orient": "right", "values": [4, 4.5, 5, 5.5, 6], "labels": false, "tickSize": -11, "title": null}},
                "text": {"field": "t"}
              }
            },
            {
              "data": {"name": "notes"},
              "transform": [{"filter": "datum.panel == 'e' && datum.kind == 'name'"}],
              "mark": {"type": "text", "align": "center", "baseline": "middle", "fontSize": 20, "color": "#231f20"},
              "encoding": {
                "x": {"field": "x", "type": "quantitative", "scale": {"domain": [0, 1000], "nice": false, "zero": false}, "axis": null},
                "y": {"field": "y", "type": "quantitative", "scale": {"domain": [4, 6], "nice": false, "zero": false}, "axis": null},
                "text": {"field": "t"}
              }
            }
          ]
        },
        {
          "width": 122, "height": 94,
          "resolve": {"axis": {"x": "independent", "y": "independent"}},
          "layer": [
            {
              "data": {"name": "gap"},
              "transform": [{"filter": "datum.p == 'M2'"}],
              "mark": {"type": "line", "color": "#e31e24", "strokeWidth": 1.5, "point": {"shape": "square", "size": 70, "filled": true, "color": "#e31e24", "opacity": 1}},
              "encoding": {
                "x": {"field": "T", "type": "quantitative", "scale": {"domain": [0, 1000], "nice": false, "zero": false}, "axis": {"orient": "bottom", "values": [0, 200, 400, 600, 800, 1000], "format": "d", "labelExpr": "datum.value == 0 || datum.value == 400 || datum.value == 800 ? datum.label : ''", "tickSize": -11, "labelPadding": 15, "labelFontSize": 18, "title": "Anneal Temp. (ºC)", "titleFontSize": 17.5, "titlePadding": 8}},
                "y": {"field": "Eg", "type": "quantitative", "scale": {"domain": [4, 6], "nice": false, "zero": false}, "axis": {"orient": "left", "values": [4, 4.5, 5, 5.5, 6], "format": ".1f", "tickSize": -11, "labelPadding": 18, "labelFontSize": 18, "title": null}}
              }
            },
            {
              "data": {"name": "notes"},
              "transform": [{"filter": "datum.panel == 'f' && datum.kind == 'tag'"}],
              "mark": {"type": "text", "align": "center", "baseline": "middle", "fontSize": 18, "color": "#231f20"},
              "encoding": {
                "x": {"field": "x", "type": "quantitative", "scale": {"domain": [0, 1000], "nice": false, "zero": false}, "axis": {"orient": "top", "values": [0, 200, 400, 600, 800, 1000], "labels": false, "tickSize": -11, "title": null}},
                "y": {"field": "y", "type": "quantitative", "scale": {"domain": [4, 6], "nice": false, "zero": false}, "axis": {"orient": "right", "values": [4, 4.5, 5, 5.5, 6], "labels": false, "tickSize": -11, "title": null}},
                "text": {"field": "t"}
              }
            },
            {
              "data": {"name": "notes"},
              "transform": [{"filter": "datum.panel == 'f' && datum.kind == 'name'"}],
              "mark": {"type": "text", "align": "center", "baseline": "middle", "fontSize": 20, "color": "#231f20"},
              "encoding": {
                "x": {"field": "x", "type": "quantitative", "scale": {"domain": [0, 1000], "nice": false, "zero": false}, "axis": null},
                "y": {"field": "y", "type": "quantitative", "scale": {"domain": [4, 6], "nice": false, "zero": false}, "axis": null},
                "text": {"field": "t"}
              }
            }
          ]
        }
      ]
    }
  ]
}
